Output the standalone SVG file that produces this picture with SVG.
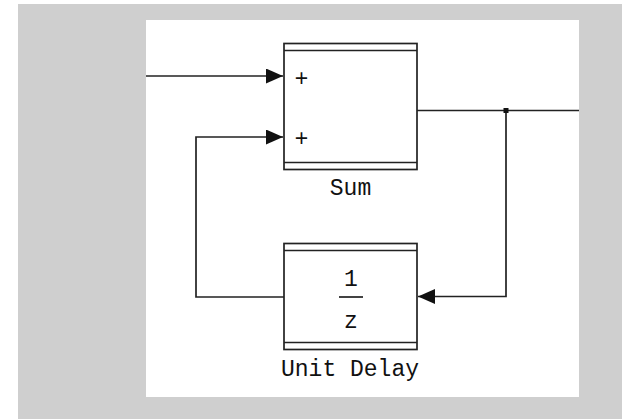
<svg xmlns="http://www.w3.org/2000/svg" width="622" height="419" viewBox="0 0 622 419">
<style>
.blk{fill:#fff;stroke:#222;stroke-width:1.7}
.ln{fill:none;stroke:#222;stroke-width:1.7}
.lbl{font-family:"Liberation Mono","Courier New",monospace;font-size:23px;fill:#111;text-anchor:middle}
.pm{font-family:"Liberation Sans",Arial,sans-serif;font-size:23px;fill:#111;text-anchor:middle}
</style>
<defs>
<marker id="arr" viewBox="0 0 17 15" refX="17" refY="7.5" markerWidth="17" markerHeight="15" markerUnits="userSpaceOnUse" orient="auto">
<path d="M0,0 L17,7.5 L0,15 z" fill="#111"/>
</marker>
</defs>
<rect x="0" y="0" width="622" height="419" fill="#fff"/>
<rect x="18" y="4" width="604" height="415" fill="#cfcfcf"/>
<rect x="146" y="20" width="433" height="377" fill="#fff"/>
<g id="connectors">
<path class="ln" d="M146,76 H283" marker-end="url(#arr)"/>
<path class="ln" d="M284,297 H196 V137 H283" marker-end="url(#arr)"/>
<path class="ln" d="M417,110.5 H579"/>
<path class="ln" d="M506,110.5 V296.5 H418" marker-end="url(#arr)"/>
<rect x="503.5" y="108" width="5" height="5" fill="#111"/>
</g>
<g id="sum">
<rect class="blk" x="284" y="43.5" width="133" height="126"/>
<line class="ln" x1="284" y1="50.5" x2="417" y2="50.5"/>
<line class="ln" x1="284" y1="162.5" x2="417" y2="162.5"/>
<text class="pm" x="301.5" y="86">+</text>
<text class="pm" x="301.5" y="146">+</text>
<text class="lbl" x="350.5" y="195">Sum</text>
</g>
<g id="unit-delay">
<rect class="blk" x="284" y="243.5" width="133" height="106"/>
<line class="ln" x1="284" y1="250.5" x2="417" y2="250.5"/>
<line class="ln" x1="284" y1="342.5" x2="417" y2="342.5"/>
<text class="lbl" x="351" y="286">1</text>
<line class="ln" x1="339" y1="297" x2="363" y2="297"/>
<text class="lbl" x="351" y="328">z</text>
<text class="lbl" x="350" y="376">Unit Delay</text>
</g>
</svg>
